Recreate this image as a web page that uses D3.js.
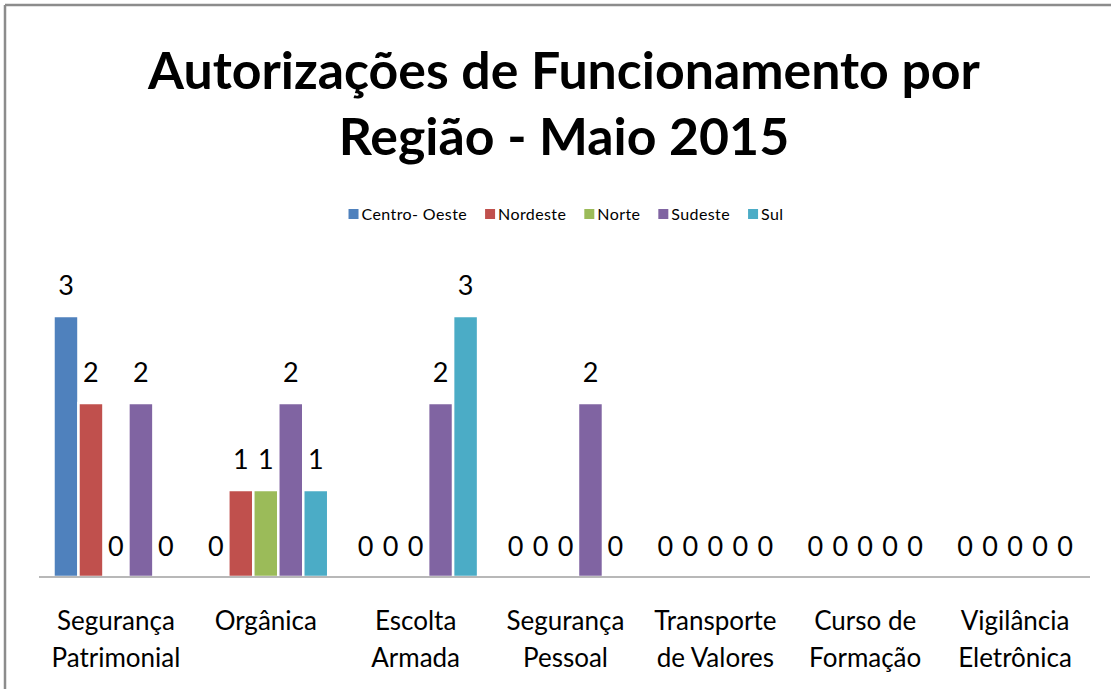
<!DOCTYPE html>
<html>
<head>
<meta charset="utf-8">
<script src="https://cdn.jsdelivr.net/npm/d3@7"></script>
<style>
  body { margin: 0; background: #fff; }
  text { font-family: "Lato", "Open Sans", sans-serif; fill: #000; }
</style>
</head>
<body>
<div id="chart"></div>
<script>
// data
var categories = ["Segurança Patrimonial", "Orgânica", "Escolta Armada", "Segurança Pessoal",
                  "Transporte de Valores", "Curso de Formação", "Vigilância Eletrônica"];
var categoryLines = [["Segurança", "Patrimonial"], ["Orgânica"], ["Escolta", "Armada"],
                     ["Segurança", "Pessoal"], ["Transporte", "de Valores"],
                     ["Curso de", "Formação"], ["Vigilância", "Eletrônica"]];
var seriesNames = ["Centro- Oeste", "Nordeste", "Norte", "Sudeste", "Sul"];
var centroOeste = [3, 0, 0, 0, 0, 0, 0];
var nordeste    = [2, 1, 0, 0, 0, 0, 0];
var norte       = [0, 1, 0, 0, 0, 0, 0];
var sudeste     = [2, 2, 2, 2, 0, 0, 0];
var sul         = [0, 1, 3, 0, 0, 0, 0];
var seriesValues = [centroOeste, nordeste, norte, sudeste, sul];
var colors = ["#4F81BD", "#C0504D", "#9BBB59", "#8064A2", "#4BACC6"];
var titleLines = ["Autorizações de Funcionamento por", "Região - Maio 2015"];

var width = 1111, height = 689;

var svg = d3.select("#chart").append("svg")
    .attr("width", width)
    .attr("height", height);

// frame (only top and left edges show in the picture)
svg.append("line").attr("x1", 5).attr("y1", 5).attr("x2", width).attr("y2", 5)
    .attr("stroke", "#8c8c8c").attr("stroke-width", 2.5);
svg.append("line").attr("x1", 5).attr("y1", 5).attr("x2", 5).attr("y2", height)
    .attr("stroke", "#8c8c8c").attr("stroke-width", 2.5);

// title
var title = svg.append("g").attr("class", "title");
var t1 = title.append("text").attr("x", 564).attr("y", 89)
    .attr("text-anchor", "middle").attr("font-weight", "bold")
    .attr("font-size", 50).text(titleLines[0]);
// fit the first line to the width it has in the reference
var fs = 50 * 832 / t1.node().getComputedTextLength();
t1.attr("font-size", fs);
title.append("text").attr("x", 564).attr("y", 155)
    .attr("text-anchor", "middle").attr("font-weight", "bold")
    .attr("font-size", fs).text(titleLines[1]);

// scales
var x0 = d3.scaleBand().domain(categories).range([41, 1090]);
var x1 = d3.scaleBand().domain(seriesNames).range([0, x0.bandwidth()])
    .paddingInner(0).paddingOuter(0.5);
var y = d3.scaleLinear().domain([0, 3.5]).range([577, 272.5]);

// legend
var legend = svg.append("g").attr("class", "legend");
var lx = 0;
seriesNames.forEach(function(name, i) {
    var item = legend.append("g").attr("transform", "translate(" + lx + ",0)");
    item.append("rect").attr("x", 0).attr("y", -5).attr("width", 10).attr("height", 10)
        .attr("fill", colors[i]);
    var txt = item.append("text").attr("x", 13).attr("y", 5.5)
        .attr("font-size", 16).attr("letter-spacing", 0.4).text(name);
    lx += 13 + txt.node().getComputedTextLength() + 18;
});
var legendWidth = lx - 18;
legend.attr("transform", "translate(" + (566 - legendWidth / 2) + ",214)");

// bars
var groups = svg.append("g").selectAll("g")
    .data(categories)
    .join("g")
    .attr("transform", function(d) { return "translate(" + x0(d) + ",0)"; });

var cells = groups.selectAll("g")
    .data(function(d, ci) {
        return seriesNames.map(function(s, si) {
            return {series: s, index: si, value: seriesValues[si][ci]};
        });
    })
    .join("g");

cells.append("rect")
    .attr("x", function(d) { return x1(d.series); })
    .attr("y", function(d) { return y(d.value); })
    .attr("width", x1.bandwidth())
    .attr("height", function(d) { return y(0) - y(d.value); })
    .attr("fill", function(d) { return colors[d.index]; })
    .attr("stroke", "#fff").attr("stroke-width", 2.5);

cells.append("text")
    .attr("x", function(d) { return x1(d.series) + x1.bandwidth() / 2; })
    .attr("y", function(d) { return y(d.value) - 21; })
    .attr("text-anchor", "middle")
    .attr("font-size", 27)
    .text(function(d) { return d.value; });

// category axis
svg.append("line").attr("x1", 39).attr("x2", 1090).attr("y1", y(0)).attr("y2", y(0))
    .attr("stroke", "#a0a0a0").attr("stroke-width", 1.5);

var catLabels = svg.append("g").selectAll("text")
    .data(categories)
    .join("text")
    .attr("x", function(d) { return x0(d) + x0.bandwidth() / 2; })
    .attr("y", 630)
    .attr("text-anchor", "middle")
    .attr("font-size", 26);

catLabels.selectAll("tspan")
    .data(function(d, i) { return categoryLines[i]; })
    .join("tspan")
    .attr("x", function() { var p = this.parentNode; return p.getAttribute("x"); })
    .attr("dy", function(d, i) { return i === 0 ? 0 : 37; })
    .text(function(d) { return d; });
</script>
</body>
</html>
